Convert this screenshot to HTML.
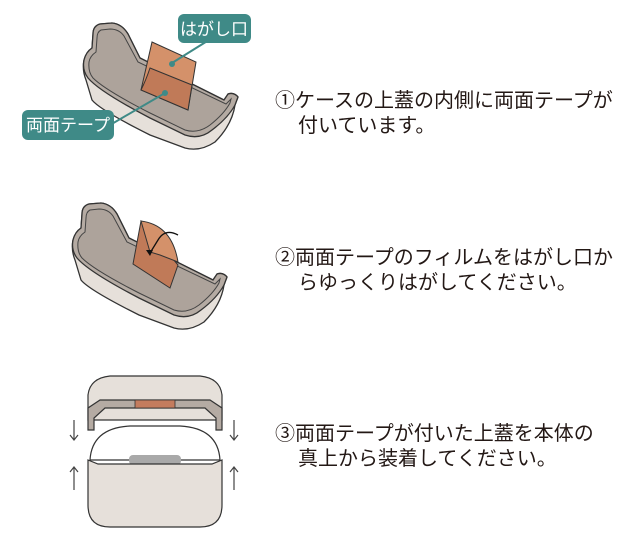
<!DOCTYPE html>
<html><head><meta charset="utf-8"><style>
body{margin:0;background:#fff;width:640px;height:546px;overflow:hidden;position:relative;font-family:"Liberation Sans","Noto Sans CJK JP",sans-serif}
.t{position:absolute;font-size:20px;color:#231815;line-height:26px;white-space:nowrap}
</style></head><body>
<svg width="640" height="546" style="position:absolute;left:0;top:0">
<defs>
<g id="tray">
<path d="M84,60 Q82,70 86,80 L92,100 Q100,110 150,135 L185,148 Q200,152 215,142 Q232,125 235,105 L238,97 Q234,92 228,94 L224,100 L140,58 L128,34 Q122,24 112,23 L100,24 Q93,26 93,34 L92,48 Q86,52 84,60Z" fill="#e6e0da" stroke="#333" stroke-width="1.3"/>
<path d="M84,60 Q82,70 88,78 Q100,92 150,118 L185,135 Q200,140 212,130 Q228,118 235,105 L238,97 Q234,92 228,94 L224,100 L140,58 L128,34 Q122,24 112,23 L100,24 Q93,26 93,34 L92,48 Q86,52 84,60Z" fill="#b5aba3" stroke="#333" stroke-width="1.3"/>
<path d="M89,62 Q88,72 93,78 Q105,90 150,113 L185,130 Q198,134 210,125 Q224,114 230,103 L231,99 L226,104 L138,62 L124,36 Q119,29 110,29 L101,30 Q97,32 97,38 L96,52 Q90,56 89,62Z" fill="#ada39b" stroke="#444" stroke-width="1"/>
</g>
</defs>
<use href="#tray"/>
<path d="M152,42 L196,62 L188,110 L141,90Z" fill="#d4916a" stroke="#333" stroke-width="1"/>
<path d="M150,68 L192,85 L188,110 L141,90 Q146,80 150,68Z" fill="#c07a58" stroke="#333" stroke-width="1"/>
<line x1="172" y1="63" x2="225" y2="30" stroke="#3f8a87" stroke-width="2"/>
<circle cx="172" cy="64" r="3" fill="#3f8a87"/>
<line x1="165" y1="93" x2="110" y2="125" stroke="#3f8a87" stroke-width="2"/>
<circle cx="165" cy="93" r="3" fill="#3f8a87"/>
<rect x="178" y="14" width="73" height="29" rx="6" fill="#3f8a87"/>
<text x="214" y="35" font-size="17" fill="#fff" text-anchor="middle" font-family="Liberation Sans,Noto Sans CJK JP,sans-serif">はがし口</text>
<rect x="22" y="110" width="92" height="30" rx="6" fill="#3f8a87"/>
<text x="68" y="131" font-size="17" fill="#fff" text-anchor="middle" font-family="Liberation Sans,Noto Sans CJK JP,sans-serif">両面テープ</text>

<use href="#tray" transform="translate(-11,180)"/>
<path d="M141,221 L133,264 L170,288 L178,265Z" fill="#c07a58" stroke="#333" stroke-width="1"/>
<path d="M141,221 Q172,225 178,262 L160,255 L150,252 Z" fill="#d4916a" stroke="#333" stroke-width="1"/>
<path d="M178,235 Q165,228 158,240 L150,253" fill="none" stroke="#111" stroke-width="1.3"/>
<path d="M146,250 L153,250 L150,256Z" fill="#111"/>

<path d="M88,420 L88,395 Q90,378 110,376 L200,376 Q220,378 222,395 L222,420 Z" fill="#e6e0da" stroke="#333" stroke-width="1.2"/>
<path d="M88,430 L88,408 L100,400 L210,400 L222,408 L222,430 L216,430 L216,418 L205,408 L105,408 L94,418 L94,430Z" fill="#b5aba3" stroke="#333" stroke-width="1.2"/>
<rect x="135" y="400" width="40" height="8" fill="#c47c5e" stroke="#333" stroke-width="0.8"/>
<path d="M90,460 Q92,428 130,426 L180,426 Q218,428 220,460Z" fill="#fff" stroke="#333" stroke-width="1.2"/>
<rect x="129" y="455" width="52" height="10" rx="4" fill="#a9a9a9"/>
<path d="M88,460 L98,464 L212,464 L222,460 L222,505 Q222,527 200,527 L110,527 Q88,527 88,505Z" fill="#e6e0da" stroke="#333" stroke-width="1.2"/>
<g stroke="#444" stroke-width="1.2" fill="none">
<path d="M74,420 V440 M70,435 L74,440 L78,435"/>
<path d="M234,420 V440 M230,435 L234,440 L238,435"/>
<path d="M74,467 V490 M70,472 L74,467 L78,472"/>
<path d="M234,467 V490 M230,472 L234,467 L238,472"/>
</g>
</svg>
<div class="t" style="left:275px;top:88px">①ケースの上蓋の内側に両面テープが</div>
<div class="t" style="left:298px;top:113px">付いています。</div>
<div class="t" style="left:275px;top:245px">②両面テープのフィルムをはがし口か</div>
<div class="t" style="left:298px;top:270px">らゆっくりはがしてください。</div>
<div class="t" style="left:275px;top:421px">③両面テープが付いた上蓋を本体の</div>
<div class="t" style="left:298px;top:446px">真上から装着してください。</div>
</body></html>
